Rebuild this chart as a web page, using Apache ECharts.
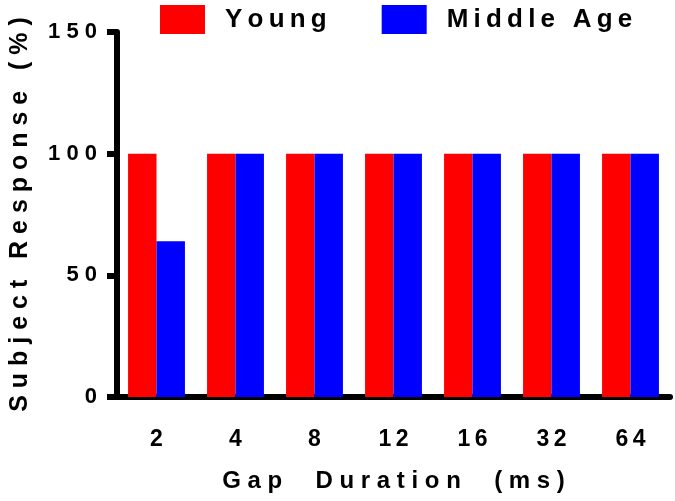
<!DOCTYPE html>
<html>
<head>
<meta charset="utf-8">
<script src="https://cdn.jsdelivr.net/npm/echarts@6/dist/echarts.min.js"></script>
<style>
  html, body { margin: 0; padding: 0; background: #fff; }
  #chart { width: 675px; height: 501px; }
</style>
</head>
<body>
<div id="chart"></div>
<script>
const categories = ['2', '4', '8', '12', '16', '32', '64']
const young = [100, 100, 100, 100, 100, 100, 100]
const middleAge = [64, 100, 100, 100, 100, 100, 100]
const yTicks = [0, 50, 100, 150]

// wide letter spacing like the original (Prism style)
function spaced(s, sep = ' ') {
  return String(s).split('').join(sep)
}

const font = 'Liberation Sans, Arial, sans-serif'
const thin = '\u2009'

const chart = echarts.init(document.getElementById('chart'))

const option = {
  animation: false,
  textStyle: { fontFamily: font },
  legend: {
    left: 155,
    top: 0,
    itemWidth: 45,
    itemHeight: 29,
    itemGap: 55,
    icon: 'rect',
    formatter: name => spaced(name, thin),
    textStyle: {
      fontFamily: font,
      fontSize: 26,
      fontWeight: 'bold',
      color: '#000',
      padding: [0, 0, 0, 15]
    },
    data: ['Young', 'Middle Age']
  },
  grid: {
    left: 114,
    right: 5,
    top: 32,
    bottom: 104,
    containLabel: false
  },
  xAxis: {
    type: 'category',
    data: categories,
    name: spaced('Gap  Duration  (ms)'),
    nameLocation: 'middle',
    nameGap: 72,
    nameTextStyle: {
      fontFamily: font,
      fontSize: 24,
      fontWeight: 'bold',
      color: '#000'
    },
    axisLine: { lineStyle: { color: '#000', width: 6 } },
    axisTick: {
      alignWithLabel: true,
      length: 8,
      lineStyle: { color: '#000', width: 6 }
    },
    axisLabel: {
      margin: 31,
      formatter: v => spaced(v, thin),
      fontFamily: font,
      fontSize: 23,
      fontWeight: 'bold',
      color: '#000'
    }
  },
  yAxis: {
    type: 'value',
    min: yTicks[0],
    max: yTicks[yTicks.length - 1],
    interval: 50,
    name: spaced('Subject Response (%)'),
    nameLocation: 'middle',
    nameGap: 84,
    nameTextStyle: {
      fontFamily: font,
      fontSize: 25,
      fontWeight: 'bold',
      color: '#000'
    },
    splitLine: { show: false },
    axisLine: { show: true, lineStyle: { color: '#000', width: 6 } },
    axisTick: {
      show: true,
      length: 10,
      lineStyle: { color: '#000', width: 6 }
    },
    axisLabel: {
      margin: 20,
      formatter: v => spaced(v),
      fontFamily: font,
      fontSize: 22,
      fontWeight: 'bold',
      color: '#000'
    }
  },
  series: [
    {
      name: 'Young',
      type: 'bar',
      data: young,
      itemStyle: { color: '#ff0000' },
      barGap: '0%',
      barCategoryGap: '28%'
    },
    {
      name: 'Middle Age',
      type: 'bar',
      data: middleAge,
      itemStyle: { color: '#0000ff' },
      barGap: '0%',
      barCategoryGap: '28%'
    }
  ]
}

chart.setOption(option)
</script>
</body>
</html>
